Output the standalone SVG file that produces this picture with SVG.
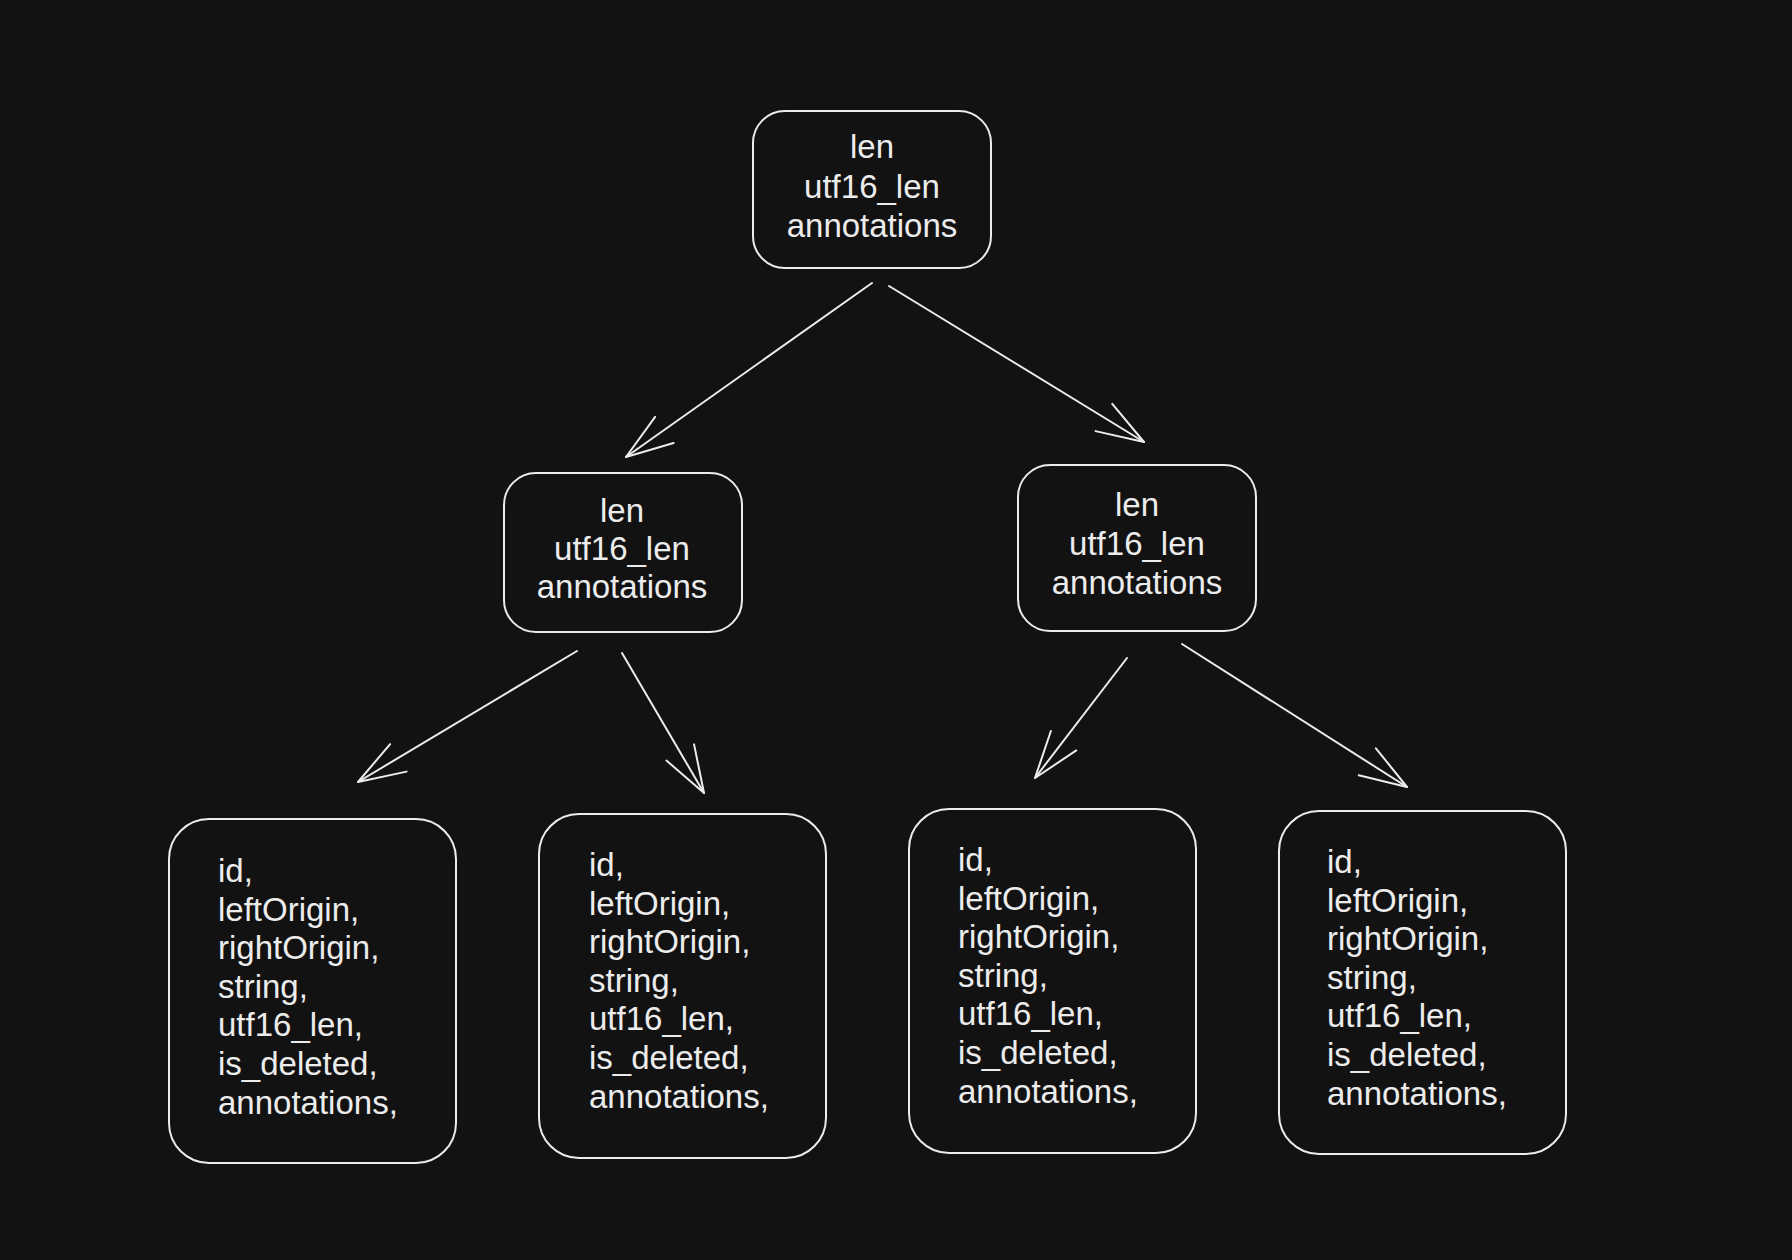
<svg xmlns="http://www.w3.org/2000/svg" width="1792" height="1260" viewBox="0 0 1792 1260">
<defs>
<style>
.box{fill:none;stroke:#ececec;stroke-width:2}
.t{fill:#ececec;font-family:"Liberation Sans",Arial,sans-serif;font-size:33px}
.c{text-anchor:middle}
.edge{fill:none;stroke:#ececec;stroke-width:2;stroke-linecap:round}
</style>
<marker id="arr" markerUnits="userSpaceOnUse" markerWidth="60" markerHeight="40" viewBox="-50 -20 60 40" refX="0" refY="0" orient="auto">
<path d="M-47,-16 L0,0 L-47,16" fill="none" stroke="#ececec" stroke-width="2" stroke-linecap="round" stroke-linejoin="round"/>
</marker>
</defs>
<rect width="1792" height="1260" fill="#121212"/>
<g id="connectors">
<line class="edge" x1="872" y1="283" x2="626" y2="457" marker-end="url(#arr)"/>
<line class="edge" x1="889" y1="286" x2="1144" y2="442" marker-end="url(#arr)"/>
<line class="edge" x1="577" y1="651" x2="358" y2="782" marker-end="url(#arr)"/>
<line class="edge" x1="622" y1="653" x2="704" y2="793" marker-end="url(#arr)"/>
<line class="edge" x1="1127" y1="658" x2="1035" y2="778" marker-end="url(#arr)"/>
<line class="edge" x1="1182" y1="644" x2="1407" y2="787" marker-end="url(#arr)"/>
</g>
<g id="root">
<rect class="box" x="753" y="111" width="238" height="157" rx="32"/>
<text class="t c" x="872" y="158">len</text>
<text class="t c" x="872" y="198">utf16_len</text>
<text class="t c" x="872" y="237">annotations</text>
</g>
<g id="mid-left">
<rect class="box" x="504" y="473" width="238" height="159" rx="32"/>
<text class="t c" x="622" y="522">len</text>
<text class="t c" x="622" y="560">utf16_len</text>
<text class="t c" x="622" y="598">annotations</text>
</g>
<g id="mid-right">
<rect class="box" x="1018" y="465" width="238" height="166" rx="32"/>
<text class="t c" x="1137" y="516">len</text>
<text class="t c" x="1137" y="555">utf16_len</text>
<text class="t c" x="1137" y="594">annotations</text>
</g>
<g id="leaf-1">
<rect class="box" x="169" y="819" width="287" height="344" rx="40"/>
<text class="t" x="218" y="882">id,</text>
<text class="t" x="218" y="920.6">leftOrigin,</text>
<text class="t" x="218" y="959.2">rightOrigin,</text>
<text class="t" x="218" y="997.8">string,</text>
<text class="t" x="218" y="1036.4">utf16_len,</text>
<text class="t" x="218" y="1075">is_deleted,</text>
<text class="t" x="218" y="1113.6">annotations,</text>
</g>
<g id="leaf-2">
<rect class="box" x="539" y="814" width="287" height="344" rx="40"/>
<text class="t" x="589" y="876">id,</text>
<text class="t" x="589" y="914.6">leftOrigin,</text>
<text class="t" x="589" y="953.2">rightOrigin,</text>
<text class="t" x="589" y="991.8">string,</text>
<text class="t" x="589" y="1030.4">utf16_len,</text>
<text class="t" x="589" y="1069">is_deleted,</text>
<text class="t" x="589" y="1107.6">annotations,</text>
</g>
<g id="leaf-3">
<rect class="box" x="909" y="809" width="287" height="344" rx="40"/>
<text class="t" x="958" y="871">id,</text>
<text class="t" x="958" y="909.6">leftOrigin,</text>
<text class="t" x="958" y="948.2">rightOrigin,</text>
<text class="t" x="958" y="986.8">string,</text>
<text class="t" x="958" y="1025.4">utf16_len,</text>
<text class="t" x="958" y="1064">is_deleted,</text>
<text class="t" x="958" y="1102.6">annotations,</text>
</g>
<g id="leaf-4">
<rect class="box" x="1279" y="811" width="287" height="343" rx="40"/>
<text class="t" x="1327" y="873">id,</text>
<text class="t" x="1327" y="911.6">leftOrigin,</text>
<text class="t" x="1327" y="950.2">rightOrigin,</text>
<text class="t" x="1327" y="988.8">string,</text>
<text class="t" x="1327" y="1027.4">utf16_len,</text>
<text class="t" x="1327" y="1066">is_deleted,</text>
<text class="t" x="1327" y="1104.6">annotations,</text>
</g>
</svg>
